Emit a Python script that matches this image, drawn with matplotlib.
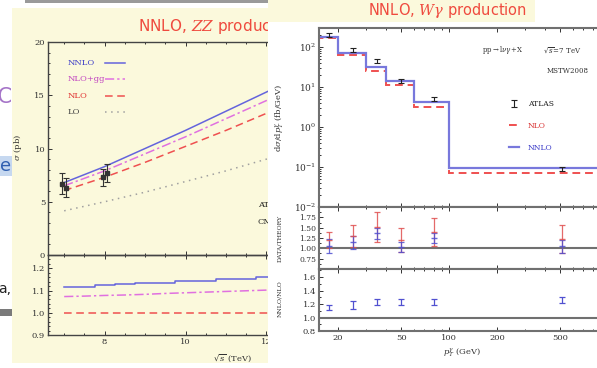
import matplotlib
matplotlib.use("Agg")
import matplotlib.pyplot as plt
from matplotlib.patches import Rectangle
from matplotlib.ticker import FixedLocator, MultipleLocator, NullFormatter, LogLocator, FixedFormatter

# ---- ZZ production: total cross section vs collider energy ----
zz_sqrt_s = [7.0, 8.0, 9.0, 10.0, 11.0, 12.0, 13.0]
zz_nnlo = [6.8, 8.3, 10.0, 11.7, 13.5, 15.3, 17.1]
zz_nlo_gg = [6.5, 7.9, 9.5, 11.1, 12.8, 14.5, 16.2]
zz_nlo = [6.05, 7.3, 8.7, 10.2, 11.7, 13.3, 14.8]
zz_lo = [4.15, 5.0, 5.9, 6.9, 7.9, 9.0, 10.0]

zz_meas_s = [6.95, 7.05, 7.95, 8.05]
zz_meas = [6.7, 6.3, 7.3, 7.7]
zz_meas_err = [1.0, 0.9, 0.8, 0.8]

zz_ratio_s = [7.0, 7.5, 8.0, 8.5, 9.0, 9.5, 10.0, 10.5, 11.0, 11.5, 12.0, 12.5, 13.0]
zz_ratio_nnlo = [1.118, 1.118, 1.124, 1.13, 1.134, 1.136, 1.142, 1.145, 1.15, 1.153, 1.16, 1.165, 1.168]
zz_ratio_gg = [1.073, 1.075, 1.078, 1.08, 1.083, 1.087, 1.09, 1.093, 1.096, 1.099, 1.102, 1.105, 1.107]
zz_ratio_nlo = [1.0, 1.0, 1.0, 1.0, 1.0, 1.0, 1.0, 1.0, 1.0, 1.0, 1.0, 1.0, 1.0]

# ---- W gamma production: photon pT spectrum ----
wg_edges = [15, 20, 30, 40, 60, 100, 1000]
wg_nnlo = [178, 70, 32, 14, 4.2, 0.094]
wg_nlo = [165, 63, 25, 11, 3.2, 0.071]
wg_pt = [17.5, 25, 35, 50, 80, 515]
wg_atlas = [200, 85, 45, 14, 5.0, 0.09]
wg_atlas_err = [20, 9, 5, 1.5, 0.6, 0.012]

wg_data_nlo = [1.20, 1.30, 1.51, 1.20, 1.39, 1.22]
wg_data_nlo_err = [0.19, 0.26, 0.36, 0.28, 0.34, 0.34]
wg_data_nnlo = [1.05, 1.15, 1.36, 1.03, 1.25, 1.05]
wg_data_nnlo_err = [0.17, 0.16, 0.14, 0.13, 0.13, 0.16]

wg_k = [1.15, 1.18, 1.225, 1.225, 1.225, 1.255]
wg_k_err = [0.04, 0.06, 0.045, 0.045, 0.045, 0.045]

zz_tick_s = [8, 10, 12, 14]
wg_tick_pt = [20, 50, 100, 200, 500, 1000]
wg_tick_labels = ["20", "50", "100", "200", "500", "1000"]

plt.rcParams["font.family"] = "DejaVu Serif"
plt.rcParams["mathtext.fontset"] = "dejavuserif"

W, H = 597, 368
YELLOW = "#fbf9dc"
TITLE_RED = "#ef4a3e"
C_NNLO = "#6464dc"
C_GG = "#e070e0"
C_NLO = "#ef5050"
C_LO = "#a0a0a0"

fig = plt.figure(figsize=(W / 100, H / 100), dpi=100)
fig.patch.set_facecolor("white")


def rect(x0, y0, x1, y1):
    return [x0 / W, 1 - y1 / H, (x1 - x0) / W, (y1 - y0) / H]


def style_ticks(ax, color="#444", lw=1.0):
    ax.tick_params(which="both", direction="in", top=True, right=True,
                   labelsize=6, pad=2, colors="#333", width=0.7)
    ax.tick_params(which="major", length=3)
    ax.tick_params(which="minor", length=1.6)
    for s in ax.spines.values():
        s.set_color(color)
        s.set_linewidth(lw)


# ---- page layer (pixel coordinates) ----
bg = fig.add_axes([0, 0, 1, 1], zorder=0)
bg.set_xlim(0, W)
bg.set_ylim(H, 0)
bg.axis("off")
P = bg.transData

bg.add_patch(Rectangle((25, 0), 243, 2.5, fc="#9a9a9a", ec="none", zorder=1))
bg.text(12, 97, "HC", color="#a574c8", fontsize=15, ha="right", va="center",
        family="DejaVu Sans", zorder=1)
bg.text(11, 166, "e", color="#2f5fb0", fontsize=13, ha="right", va="center",
        family="DejaVu Sans", zorder=1,
        bbox=dict(fc="#c6d8f0", ec="none", pad=0.6))
bg.text(11, 289, "a,", color="#222", fontsize=10, ha="right", va="center",
        family="DejaVu Sans", zorder=1)
bg.add_patch(Rectangle((0, 309), 12, 7, fc="#7a7a7a", ec="none", zorder=1))
bg.add_patch(Rectangle((12, 8), 256, 355, fc=YELLOW, ec="none", zorder=5))
bg.text(138, 27, r"NNLO, $ZZ$ production", color=TITLE_RED, fontsize=11,
        ha="left", va="center", family="DejaVu Sans", zorder=6)
bg.text(18, 148, r"$\sigma$ (pb)", rotation=90, fontsize=6, ha="center",
        va="center", color="#333", zorder=6)
bg.text(232, 358, r"$\sqrt{s}$ (TeV)", fontsize=6, ha="center", va="center",
        color="#333", zorder=6)
bg.text(258, 205, "ATLAS", fontsize=6, ha="left", va="center", color="#222", zorder=6)
bg.text(258, 222, "CMS", fontsize=6, ha="left", va="center", color="#222", zorder=6)

# ---- ZZ: cross section panel ----
axA = fig.add_axes(rect(48, 42, 412, 255), zorder=1)
axA.set_facecolor("none")
axA.plot(zz_sqrt_s, zz_lo, color=C_LO, lw=1.1, ls=(0, (1, 3)))
axA.plot(zz_sqrt_s, zz_nlo, color=C_NLO, lw=1.1, ls=(0, (5, 3)))
axA.plot(zz_sqrt_s, zz_nlo_gg, color=C_GG, lw=1.1, ls=(0, (6, 2, 1.5, 2)))
axA.plot(zz_sqrt_s, zz_nnlo, color=C_NNLO, lw=1.1)
axA.errorbar(zz_meas_s, zz_meas, yerr=zz_meas_err, fmt="s", ms=2.5,
             color="#333", ecolor="#333", elinewidth=0.8, capsize=2, capthick=0.8)
axA.set_xlim(6.6, 15.6)
axA.set_ylim(0, 20)
axA.xaxis.set_major_locator(FixedLocator(zz_tick_s))
axA.xaxis.set_minor_locator(MultipleLocator(0.5))
axA.yaxis.set_major_locator(MultipleLocator(5))
axA.yaxis.set_minor_locator(MultipleLocator(1))
style_ticks(axA)
axA.tick_params(labelbottom=False)

zz_keys = [("NNLO", "#3a3ac8", C_NNLO, "-"),
           ("NLO+gg", "#c040c0", C_GG, (0, (6, 2, 1.5, 2))),
           ("NLO", "#e03030", C_NLO, (0, (5, 3))),
           ("LO", "#444444", C_LO, (0, (1, 3)))]
for i, (lab, tc, lc, ls) in enumerate(zz_keys):
    yk = 63 + 16.3 * i
    axA.text(68, yk, lab, transform=P, fontsize=6, color=tc, ha="left",
             va="center", clip_on=False)
    axA.plot([105, 125], [yk, yk], transform=P, color=lc, lw=1.1, ls=ls,
             clip_on=False)

# ---- ZZ: ratio panel ----
axB = fig.add_axes(rect(48, 255, 412, 335), zorder=1)
axB.set_facecolor("none")
axB.plot(zz_ratio_s, zz_ratio_nlo, color=C_NLO, lw=1.1, ls=(0, (5, 3)))
axB.plot(zz_ratio_s, zz_ratio_gg, color=C_GG, lw=1.1, ls=(0, (6, 2, 1.5, 2)))
axB.plot(zz_ratio_s, zz_ratio_nnlo, color=C_NNLO, lw=1.1, drawstyle="steps-mid")
axB.set_xlim(6.6, 15.6)
axB.set_ylim(0.9, 1.26)
axB.xaxis.set_major_locator(FixedLocator(zz_tick_s))
axB.xaxis.set_minor_locator(MultipleLocator(0.5))
axB.yaxis.set_major_locator(FixedLocator([0.9, 1.0, 1.1, 1.2]))
axB.yaxis.set_major_formatter(FixedFormatter(["0.9", "1.0", "1.1", "1.2"]))
axB.yaxis.set_minor_locator(MultipleLocator(0.02))
style_ticks(axB)

# ---- second page layer ----
ov = fig.add_axes([0, 0, 1, 1], zorder=2)
ov.set_xlim(0, W)
ov.set_ylim(H, 0)
ov.axis("off")
ov.add_patch(Rectangle((268, 22), W - 268, H - 22, fc="white", ec="none"))
ov.add_patch(Rectangle((268, 0), 267, 22, fc=YELLOW, ec="none"))
ov.text(447, 11, r"NNLO, $W\gamma$ production", color=TITLE_RED, fontsize=10.5,
        ha="center", va="center", family="DejaVu Sans")
ov.text(280, 118, r"d$\sigma$/d$p_T^{\gamma}$ (fb/GeV)", rotation=90, fontsize=6,
        ha="center", va="center", color="#333")
ov.text(280, 238, "DATA/THEORY", rotation=90, fontsize=4.5, ha="center",
        va="center", color="#333")
ov.text(280, 299, "NNLO/NLO", rotation=90, fontsize=4.5, ha="center",
        va="center", color="#333")
ov.text(462, 353, r"$p_T^{\gamma}$ (GeV)", fontsize=6, ha="center", va="center",
        color="#333")

SP = "#707070"

# ---- W gamma: spectrum ----
axR1 = fig.add_axes(rect(319, 28, 620, 207), zorder=3)
nlo_step = axR1.stairs(wg_nlo, wg_edges, color=C_NLO, lw=1.4, ls=(0, (4, 2.5)))
nnlo_step = axR1.stairs(wg_nnlo, wg_edges, color="#7878dc", lw=1.6)
atlas = axR1.errorbar(wg_pt, wg_atlas, yerr=wg_atlas_err, fmt="none",
                      ecolor="#222", elinewidth=0.8, capsize=2.2, capthick=0.8)
axR1.set_xscale("log")
axR1.set_yscale("log")
axR1.set_xlim(15.2, 1188)
axR1.set_ylim(1e-2, 10 ** 2.475)
axR1.yaxis.set_major_locator(LogLocator(base=10, numticks=10))
axR1.yaxis.set_minor_locator(LogLocator(base=10, subs=range(2, 10), numticks=10))
axR1.yaxis.set_minor_formatter(NullFormatter())
style_ticks(axR1, SP, 1.5)
axR1.tick_params(labelbottom=False, labelsize=6.5)

axR1.text(482, 50, r"pp$\to$l$\nu\gamma$+X", transform=P, fontsize=5,
          ha="left", va="center", color="#333", clip_on=False)
axR1.text(543, 50, r"$\sqrt{s}$=7 TeV", transform=P, fontsize=5,
          ha="left", va="center", color="#333", clip_on=False)
axR1.text(547, 71, "MSTW2008", transform=P, fontsize=5, ha="left",
          va="center", color="#333", clip_on=False)

leg = axR1.legend([atlas, nlo_step, nnlo_step], ["ATLAS", "NLO", "NNLO"],
                  loc="upper left", bbox_to_anchor=(509 / W, 1 - 100 / H),
                  bbox_transform=fig.transFigure, frameon=False, fontsize=5.5,
                  handlelength=1.3, handletextpad=1.2, labelspacing=1.8,
                  borderpad=0, borderaxespad=0)
for t, c in zip(leg.get_texts(), ["#222", "#d83030", "#3a3ac8"]):
    t.set_color(c)

# ---- W gamma: data / theory ----
axR2 = fig.add_axes(rect(319, 207, 620, 269), zorder=3)
axR2.axhline(1.0, color=SP, lw=1.5)
axR2.errorbar(wg_pt, wg_data_nlo, yerr=wg_data_nlo_err, fmt="_", ms=5,
              color="#e05050", elinewidth=0.9, capsize=2.5, capthick=0.9, alpha=0.85)
axR2.errorbar(wg_pt, wg_data_nnlo, yerr=wg_data_nnlo_err, fmt="_", ms=5,
              color="#5050d0", elinewidth=0.9, capsize=2.5, capthick=0.9, alpha=0.85)
axR2.set_xscale("log")
axR2.set_xlim(15.2, 1188)
axR2.set_ylim(0.5, 2.0)
axR2.yaxis.set_major_locator(FixedLocator([0.75, 1.0, 1.25, 1.5, 1.75]))
axR2.yaxis.set_major_formatter(FixedFormatter(["0.75", "1.00", "1.25", "1.50", "1.75"]))
axR2.yaxis.set_minor_locator(MultipleLocator(0.125))
style_ticks(axR2, SP, 1.5)
axR2.tick_params(labelbottom=False, labelsize=5.5)

# ---- W gamma: NNLO / NLO ----
axR3 = fig.add_axes(rect(319, 269, 620, 331), zorder=3)
axR3.axhline(1.0, color=SP, lw=1.5)
axR3.errorbar(wg_pt, wg_k, yerr=wg_k_err, fmt="none", ecolor="#5050d0",
              elinewidth=0.9, capsize=2.5, capthick=0.9)
axR3.set_xscale("log")
axR3.set_xlim(15.2, 1188)
axR3.set_ylim(0.8, 1.72)
axR3.yaxis.set_major_locator(FixedLocator([0.8, 1.0, 1.2, 1.4, 1.6]))
axR3.yaxis.set_major_formatter(FixedFormatter(["0.8", "1.0", "1.2", "1.4", "1.6"]))
axR3.yaxis.set_minor_locator(MultipleLocator(0.1))
for ax in (axR1, axR2, axR3):
    ax.xaxis.set_major_locator(FixedLocator(wg_tick_pt))
    ax.xaxis.set_minor_locator(FixedLocator([30, 40, 60, 70, 80, 90, 300, 400, 600, 700, 800, 900]))
    ax.xaxis.set_minor_formatter(NullFormatter())
axR3.xaxis.set_major_formatter(FixedFormatter(wg_tick_labels))
style_ticks(axR3, SP, 1.5)
axR3.tick_params(labelsize=6)

fig.savefig("out.png", dpi=100)
